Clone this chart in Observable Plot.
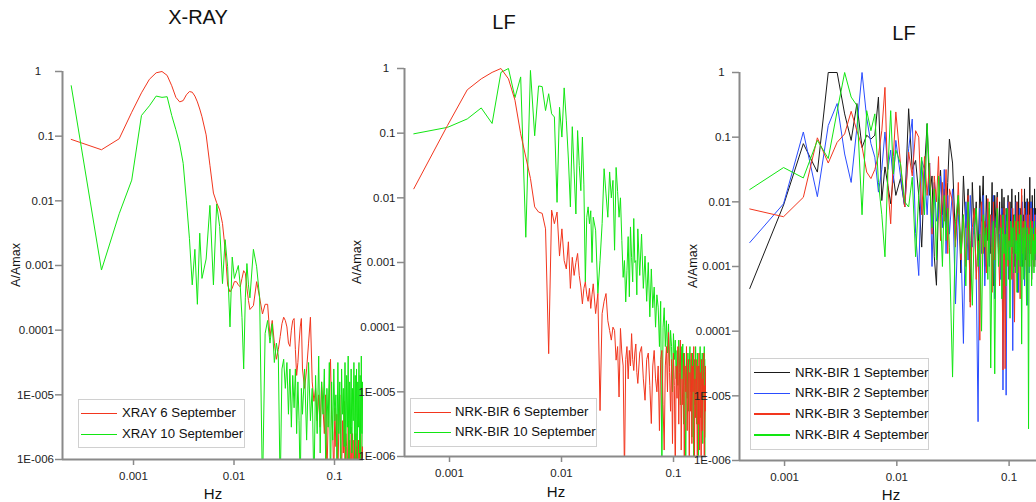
<!DOCTYPE html>
<html><head><meta charset="utf-8">
<script src="https://cdn.jsdelivr.net/npm/d3@7"></script>
<script src="https://cdn.jsdelivr.net/npm/@observablehq/plot@0.6"></script>
<style>
body{margin:0;background:#fff;}
#wrap{position:relative;width:1036px;height:502px;overflow:hidden;font-family:"Liberation Sans Narrow","Arial Narrow","Liberation Sans",Arial,sans-serif;color:#111;}
.panel{position:absolute;top:0;}
.title{position:absolute;font-size:20px;line-height:20px;transform:translateX(-50%);white-space:nowrap;}
.ylab{position:absolute;font-family:"Liberation Sans",Arial,sans-serif;font-size:12.5px;line-height:14px;transform:translate(-50%,-50%) rotate(-90deg);white-space:nowrap;}
.xlab{position:absolute;font-size:15px;line-height:15px;transform:translateX(-50%);white-space:nowrap;}
.legend{position:absolute;border:1px solid #d0d0d0;background:#fff;box-sizing:border-box;}
.lline{position:absolute;}
.ltext{position:absolute;font-size:13.2px;line-height:14px;white-space:nowrap;color:#111;}
</style></head>
<body><div id="wrap"></div>
<script>
// ---------- shared axis ticks ----------
const yTicks = [1, 0.1, 0.01, 0.001, 0.0001, 1e-5, 1e-6];
const yTickLabels = ["1", "0.1", "0.01", "0.001", "0.0001", "1E-005", "1E-006"];
const xTicks = [0.001, 0.01, 0.1];
const xTickLabels = ["0.001", "0.01", "0.1"];

// ---------- panel 1: X-RAY (FFT bins, df = 0.00024 Hz) ----------
const xrayDf = 0.00024;
const xrayBins = [...d3.range(1, 21), ...d3.range(22, 61, 2), ...d3.range(65, 201, 5), ...d3.range(210, 801, 10)];
// log10(A/Amax)
const xray6 = [
  -1.05,-1.21,-1.04,-0.63,-0.33,-0.12,-0.02,0,-0.06,-0.22,-0.40,-0.47,-0.45,-0.36,-0.31,-0.32,-0.38,-0.47,-0.58,-0.70,
  -0.98,-1.45,-1.88,-2.03,-2.14,-2.35,-2.75,-3.30,-3.41,-3.35,-3.25,-3.25,-3.30,-3.33,-3.20,-3.08,-3.12,-3.35,-3.54,-3.68,
  -3.62,-3.25,-3.50,-3.75,-3.60,-3.60,-4.10,-3.85,-4.20,-4.45,-4.30,-4.10,-3.90,-3.80,-3.85,-3.95,-4.20,-4.25,-4.00,-3.85,
  -3.82,-4.30,-4.70,-4.50,-4.20,-3.95,-3.82,-4.60,
  -4.9,-4.6,-4.2,-3.8,-4.8,-5.1,-4.9,-5.4,-5.0,-5.5,
  -4.8,-5.2,-5.6,-5.0,-6.3,-5.4,-4.9,-4.45,-5.3,-5.6,
  -6.3,-5.2,-5.8,-5.3,-6.3,-5.5,-5.0,-5.7,-6.3,-5.4,
  -5.9,-5.1,-6.3,-5.6,-5.8,-6.3,-5.4,-6.1,-5.7,-6.3,
  -5.5,-6.0,-5.6,-6.3,-5.7,-5.9,-6.3,-5.6,-6.0,-5.8,
  -6.3,-5.7,-6.0,-5.8,-6.3,-5.6,-6.0,-6.3,-5.8,-6.0
];
const xray10 = [
  -0.22,-3.07,-2.20,-1.68,-0.68,-0.53,-0.38,-0.40,-0.39,-0.68,-0.90,-1.12,-1.42,-2.00,-2.58,-3.30,-2.75,-3.60,-2.50,-3.20,
  -2.90,-2.07,-3.30,-2.05,-2.40,-3.28,-2.60,-3.02,-3.95,-2.87,-3.20,-3.10,-3.00,-3.30,-3.80,-4.60,-3.50,-2.97,-3.30,-3.50,
  -2.75,-3.02,-3.50,-6.5,-4.05,-3.85,-4.20,-3.90,-4.50,-4.20,-4.40,-6.5,-4.60,-4.45,-4.90,-4.50,-5.30,-4.60,-5.50,-4.70,
  -5.20,-4.60,-5.60,-4.80,-5.40,-6.5,-4.90,-5.30,
  -4.6,-5.7,-4.5,-5.4,-4.9,-6.5,-4.7,-5.6,-4.4,-5.9,
  -4.8,-5.3,-4.6,-6.0,-4.9,-5.5,-4.5,-6.5,-4.8,-5.7,
  -4.6,-5.4,-5.0,-6.0,-4.5,-5.6,-4.8,-6.5,-4.6,-5.3,
  -4.9,-5.8,-4.5,-6.0,-4.7,-5.5,-4.4,-6.5,-4.8,-5.6,
  -4.6,-5.9,-4.9,-5.4,-4.5,-6.0,-4.7,-5.7,-4.6,-6.5,
  -4.8,-5.5,-4.5,-5.9,-4.7,-6.0,-4.4,-5.6,-4.8,-5.8
];

// ---------- panel 2: LF NRK-BIR 6 / 10 Sep (df = 0.00048 Hz) ----------
const lfDf = 0.00048;
const lfBins = [...d3.range(1, 41), ...d3.range(42, 101, 2), ...d3.range(104, 409, 4)];
const nrk6 = [
  -1.86,-0.88,-0.33,-0.16,-0.06,0,-0.16,-0.49,-1.01,-1.37,
  -1.70,-2.14,-2.22,-2.24,-2.48,-4.41,-2.19,-2.40,-2.22,-2.90,
  -2.48,-2.97,-3.10,-2.68,-3.40,-2.92,-3.20,-3.00,-2.86,-3.20,
  -3.38,-3.64,-3.40,-3.30,-3.50,-3.60,-3.40,-3.71,-3.50,-3.33,
  -3.79,-3.48,-5.29,-3.79,-3.60,-3.48,-3.90,-4.05,-4.20,-4.00,
  -4.05,-4.51,-4.30,-5.08,-4.02,-4.40,-4.60,-6.3,-4.50,-4.30,
  -4.80,-4.36,-4.60,-4.10,-4.50,-4.67,-4.40,-4.26,-4.70,-4.87,
  -4.4,-4.3,-4.8,-5.13,-4.5,-4.4,-4.9,-5.49,-4.6,-4.36,
  -4.8,-5.0,-4.6,-5.6,-4.5,-4.36,-5.2,-5.9,-4.6,-4.3,
  -5.0,-4.08,-4.7,-5.3,-4.5,-5.8,-4.4,-4.9,-6.3,-4.6,
  -5.1,-4.3,-5.5,-4.7,-4.2,-5.9,-4.8,-5.2,-4.4,-6.3,
  -4.6,-5.0,-4.3,-5.6,-4.9,-4.5,-6.3,-4.7,-5.3,-4.4,
  -5.8,-4.6,-5.0,-4.3,-6.3,-4.8,-5.4,-4.5,-5.1,-6.3,
  -4.6,-5.5,-4.4,-5.9,-4.7,-5.2,-6.3,-4.5,-5.6,-4.8,
  -5.0,-4.4,-6.3,-4.9,-5.3,-4.6,-5.7
];
const nrk10 = [
  -1.01,-0.91,-0.78,-0.61,-0.85,-0.06,0,-0.45,-0.13,-2.61,
  -0.03,-1.04,-0.27,-0.28,-0.65,-0.39,-0.70,-0.75,-2.07,-0.60,
  -1.06,-0.30,-0.80,-1.40,-2.14,-0.90,-1.60,-2.25,-0.96,-1.50,
  -1.89,-1.06,-1.80,-3.30,-2.30,-2.14,-2.40,-2.20,-3.00,-2.30,
  -2.50,-3.48,-2.97,-2.40,-1.55,-1.94,-2.30,-1.60,-2.00,-1.73,
  -2.81,-1.53,-1.90,-2.30,-2.00,-2.66,-3.23,-2.97,-3.61,-3.12,
  -2.60,-3.53,-2.45,-2.92,-3.30,-2.32,-3.00,-2.97,-3.50,-2.48,
  -3.2,-2.56,-3.4,-2.9,-3.6,-3.0,-3.84,-3.1,-3.7,-3.38,
  -4.0,-3.5,-3.69,-4.3,-3.6,-6.3,-4.0,-3.7,-4.3,-3.9,
  -4.4,-3.95,-4.6,-4.05,-4.3,-5.0,-4.1,-4.5,-4.2,-4.8,
  -4.36,-4.9,-4.2,-4.6,-5.2,-4.3,-4.8,-4.26,-5.5,-4.4,
  -4.9,-6.3,-4.5,-5.1,-4.4,-5.3,-4.6,-4.3,-5.0,-4.5,
  -5.7,-4.4,-4.8,-6.3,-4.5,-5.2,-4.3,-4.9,-5.5,-4.4,
  -4.7,-6.3,-4.6,-5.0,-4.3,-5.4,-4.5,-4.9,-4.4,-5.8,
  -4.6,-5.1,-4.3,-6.3,-4.7,-5.0,-4.5
];

// ---------- panel 3: LF NRK-BIR 1..4 Sep (df = 0.00049 Hz) ----------
const sepDf = 0.00049;
const sepBins = [...d3.range(1, 21), ...d3.range(22, 61, 2), ...d3.range(64, 357, 4)];
const nrk1 = [
  -3.34,-2.05,-1.10,-1.54,0,0,-0.64,-1.05,-0.48,-1.16,-0.97,-1.03,-0.97,-0.38,-1.98,-1.46,-1.75,-2.03,-1.60,-1.90,
  -1.64,-2.08,-0.56,-1.50,-1.36,-1.90,-2.70,-1.50,-0.79,-1.90,-1.60,-2.85,-3.29,-2.00,-1.51,-2.20,-1.80,-2.40,-1.70,-1.03,
  -1.4,-2.6,-1.9,-3.1,-1.6,-2.4,-1.8,-3.55,-1.7,-2.5,
  -2.0,-2.9,-1.75,-2.3,-1.6,-3.0,-1.9,-2.6,-2.1,-2.8,
  -1.7,-3.3,-1.9,-2.4,-1.85,-2.7,-2.0,-3.1,-1.8,-2.5,
  -1.93,-2.9,-2.1,-2.4,-1.9,-3.2,-2.0,-2.6,-1.8,-2.8,
  -2.2,-3.0,-1.9,-2.5,-2.0,-3.4,-1.85,-2.7,-2.1,-2.4,
  -1.9,-3.0,-2.2,-2.6,-1.8,-2.9,-2.0,-3.3,-1.95,-2.5,
  -2.1,-2.8,-1.62,-2.6,-2.0,-3.1,-1.9,-2.4,-2.2,-2.9,
  -1.8,-2.7,-2.1,-3.0
];
const nrk2 = [
  -2.63,-2.03,-0.92,-1.92,-0.82,-0.48,-1.26,-1.70,-0.85,0,-0.70,-1.10,-1.31,-1.85,-1.50,-0.92,-1.50,-1.20,-1.70,-1.05,
  -1.60,-2.08,-1.18,-0.72,-2.49,-3.14,-1.36,-1.50,-2.20,-1.40,-3.00,-1.70,-2.30,-2.20,-1.60,-2.40,-1.50,-2.80,-1.90,-2.50,
  -1.8,-3.58,-2.2,-2.6,-4.19,-2.0,-2.9,-1.9,-2.7,-2.3,
  -3.1,-5.40,-2.1,-2.8,-1.9,-3.3,-2.4,-2.0,-3.0,-2.2,
  -2.7,-1.9,-3.5,-2.3,-2.0,-2.8,-2.5,-3.2,-2.1,-4.91,
  -2.6,-2.2,-4.99,-2.4,-2.0,-3.0,-2.3,-2.7,-2.1,-4.3,
  -2.5,-2.2,-3.1,-2.0,-2.8,-2.4,-3.4,-2.1,-2.6,-2.3,
  -3.0,-2.0,-2.9,-2.4,-3.3,-2.2,-2.7,-2.0,-3.6,-2.3,
  -2.5,-3.1,-2.2,-2.8,-2.0,-3.2,-2.4,-2.6,-2.1,-3.0,
  -2.3,-2.9,-2.2,-2.7
];
const nrk3 = [
  -2.11,-2.23,-1.93,-1.01,-1.40,-1.08,-0.95,-0.60,-0.90,-1.15,-1.54,-1.64,-1.50,-1.28,-0.90,-0.23,-1.77,-2.34,-1.30,-0.61,
  -1.41,-2.08,-1.23,-1.60,-0.90,-1.00,-2.20,-1.30,-1.90,-1.40,-2.50,-1.60,-2.00,-1.30,-2.60,-1.70,-2.30,-1.50,-2.80,-1.80,
  -2.0,-2.7,-1.7,-2.9,-2.2,-3.0,-1.9,-3.63,-2.4,-2.1,
  -3.2,-2.6,-4.14,-2.0,-2.8,-2.3,-3.1,-1.95,-2.6,-2.2,
  -3.4,-2.0,-2.9,-2.5,-1.93,-2.7,-3.3,-2.2,-2.6,-4.6,
  -2.1,-4.58,-2.8,-2.3,-3.0,-2.0,-2.7,-2.4,-3.2,-2.1,
  -2.9,-3.86,-2.3,-2.6,-2.0,-3.1,-2.5,-2.2,-3.5,-2.4,
  -1.8,-2.8,-2.3,-3.0,-2.1,-2.7,-2.5,-3.3,-2.2,-2.6,
  -2.0,-3.0,-2.4,-2.8,-2.1,-3.2,-2.3,-2.7,-2.5,-3.0,
  -2.2,-2.6,-2.4,-2.9
];
const nrk4 = [
  -1.81,-1.47,-1.63,-1.05,-1.33,-0.60,0,-0.38,-0.51,-2.20,-0.59,-0.90,-0.64,-1.70,-2.20,-2.85,-1.50,-0.59,-1.57,-1.20,
  -1.41,-2.00,-2.08,-1.62,-2.85,-1.90,-1.31,-2.20,-0.79,-1.62,-2.40,-1.80,-2.90,-1.60,-2.20,-3.00,-1.90,-2.60,-2.10,-2.70,
  -4.71,-2.3,-1.9,-2.8,-2.2,-3.3,-2.0,-2.6,-3.6,-2.4,
  -2.1,-3.0,-2.5,-4.0,-2.2,-2.7,-2.4,-3.2,-2.0,-4.57,
  -2.6,-2.3,-4.66,-2.5,-2.1,-3.0,-2.7,-2.4,-3.5,-2.2,
  -2.8,-2.5,-3.3,-2.1,-2.9,-2.6,-3.8,-2.3,-2.7,-2.4,
  -3.1,-2.2,-2.8,-2.6,-3.4,-2.3,-2.9,-2.5,-3.0,-2.2,
  -4.2,-2.7,-2.4,-3.2,-2.6,-2.3,-2.9,-3.6,-2.4,-2.8,
  -5.51,-2.5,-3.0,-2.3,-2.7,-3.3,-2.4,-2.9,-2.6,-3.1,
  -2.3,-2.8,-2.5,-3.0
];

// ---------- series names & colours ----------
const xrayNames = ["XRAY 6 September", "XRAY 10 September"];
const lfNames = ["NRK-BIR 6 September", "NRK-BIR 10 September"];
const sepNames = ["NRK-BIR 1 September", "NRK-BIR 2 September", "NRK-BIR 3 September", "NRK-BIR 4 September"];
const RED = "#f2361e", GREEN = "#12e612", BLUE = "#2a4dff", BLACK = "#1a1a1a";

const FONT = '"Liberation Sans Narrow","Arial Narrow","Liberation Sans",Arial,sans-serif';

function toRows(bins, df, exps) {
  return exps.map((e, i) => ({f: bins[i] * df, a: Math.pow(10, e)}));
}

const wrap = document.getElementById("wrap");

function makePanel(cfg) {
  const chart = Plot.plot({
    width: cfg.width, height: 502,
    marginLeft: cfg.ml, marginRight: cfg.mr, marginTop: cfg.mt, marginBottom: cfg.mb,
    style: {fontFamily: FONT, fontSize: "11.5px", color: "#222", background: "transparent", overflow: "visible"},
    x: {type: "log", domain: cfg.xDomain},
    y: {type: "log", domain: [1e-6, 1]},
    marks: [
      ...cfg.series.map(s => Plot.line(s.rows, {x: "f", y: "a", stroke: s.color, strokeWidth: 1, clip: true})),
      Plot.ruleX([cfg.xDomain[0]], {stroke: "#8a8a8a", strokeWidth: 2}),
      Plot.ruleY([1e-6], {stroke: "#8a8a8a", strokeWidth: 2}),
      Plot.axisY({ticks: yTicks, tickFormat: d => cfg.yFmt(yTickLabels[yTicks.indexOf(d)]), tickSize: 7, tickPadding: cfg.yPad,
        stroke: "#8a8a8a", strokeWidth: 1.5, color: "#222", label: null, fontSize: 11.5}),
      Plot.axisX({ticks: xTicks, tickFormat: d => xTickLabels[xTicks.indexOf(d)], tickSize: 6, tickPadding: 6,
        stroke: "#8a8a8a", strokeWidth: 1.5, color: "#222", label: null, fontSize: 11.5})
    ]
  });
  chart.classList.add("panel");
  chart.style.left = cfg.left + "px";
  wrap.appendChild(chart);
}

function addText(cls, text, left, top) {
  const d = document.createElement("div");
  d.className = cls; d.textContent = text;
  d.style.left = left + "px"; d.style.top = top + "px";
  wrap.appendChild(d);
}

function addLegend(box, items) {
  const lg = document.createElement("div");
  lg.className = "legend";
  Object.assign(lg.style, {left: box.x + "px", top: box.y + "px", width: box.w + "px", height: box.h + "px"});
  wrap.appendChild(lg);
  items.forEach((it, i) => {
    const y = box.ly0 + i * box.dy;
    const ln = document.createElement("div");
    ln.className = "lline";
    const h = it.w || 1;
    Object.assign(ln.style, {left: box.lx0 + "px", top: Math.round(y - h / 2) + "px", height: h + "px",
      width: (box.lx1 - box.lx0) + "px", background: it.color});
    wrap.appendChild(ln);
    addText("ltext", it.name, box.tx, y - 7);
  });
}

// Panel 1 (red drawn under green)
const p1 = [
  {rows: toRows(xrayBins, xrayDf, xray6), color: RED},
  {rows: toRows(xrayBins, xrayDf, xray10), color: GREEN}
];
makePanel({left: 0, width: 370, ml: 62, mr: 7, mt: 71, mb: 43, xDomain: [0.0001965, 0.1943], series: p1,
  yPad: 1.5, yFmt: s => s === "1" ? "1\u2007\u2007" : s});

// Panel 2
const p2 = [
  {rows: toRows(lfBins, lfDf, nrk10), color: GREEN},
  {rows: toRows(lfBins, lfDf, nrk6), color: RED}
];
makePanel({left: 345, width: 370, ml: 59, mr: 9, mt: 68, mb: 46, xDomain: [0.0003964, 0.197], series: p2,
  yPad: 2, yFmt: s => s === "1" ? "1\u2007" : s});

// Panel 3
const p3 = [
  {rows: toRows(sepBins, sepDf, nrk1), color: BLACK},
  {rows: toRows(sepBins, sepDf, nrk2), color: BLUE},
  {rows: toRows(sepBins, sepDf, nrk3), color: RED},
  {rows: toRows(sepBins, sepDf, nrk4), color: GREEN}
];
makePanel({left: 686, width: 350, ml: 53, mr: 0, mt: 72, mb: 42, xDomain: [0.000397, 0.1754], series: p3,
  yPad: 1.5, yFmt: s => s === "1" ? "1\u2007" : s});

// Titles & axis labels
addText("title", "X-RAY", 198, 7);
addText("title", "LF", 504, 12);
addText("title", "LF", 904, 23);
addText("ylab", "A/Amax", 15.5, 265);
addText("ylab", "A/Amax", 356.5, 262);
addText("ylab", "A/Amax", 692.5, 266);
addText("xlab", "Hz", 213, 486);
addText("xlab", "Hz", 556, 484);
addText("xlab", "Hz", 891, 487);

// Legends
addLegend({x: 78, y: 399, w: 167, h: 49, lx0: 81, lx1: 117, ly0: 413.3, dy: 21, tx: 122},
  [{name: xrayNames[0], color: RED, w: 1}, {name: xrayNames[1], color: GREEN, w: 1}]);
addLegend({x: 410, y: 398, w: 187, h: 49, lx0: 414, lx1: 451, ly0: 412.3, dy: 20, tx: 455},
  [{name: lfNames[0], color: RED, w: 1}, {name: lfNames[1], color: GREEN, w: 1}]);
addLegend({x: 750, y: 357.5, w: 179, h: 92, lx0: 754, lx1: 790, ly0: 372.7, dy: 20.7, tx: 795},
  [{name: sepNames[0], color: BLACK, w: 1}, {name: sepNames[1], color: BLUE, w: 1},
   {name: sepNames[2], color: RED, w: 2}, {name: sepNames[3], color: GREEN, w: 2}]);
</script>
</body></html>
